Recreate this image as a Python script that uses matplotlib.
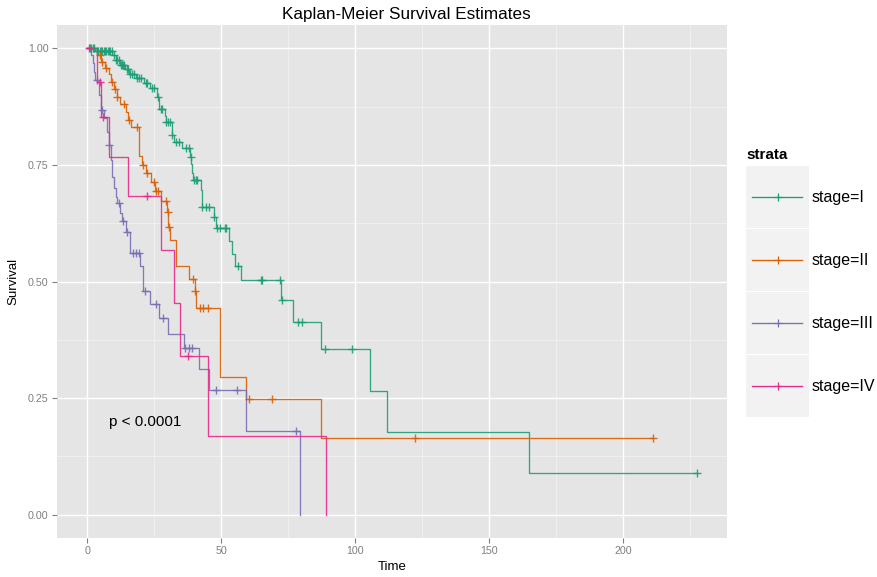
import numpy as np
import matplotlib
matplotlib.use("Agg")
import matplotlib.pyplot as plt
from matplotlib.patches import Rectangle

plt.rcParams['font.family'] = ['Liberation Sans', 'DejaVu Sans']

# ---------------- data ----------------
strata = ["stage=I", "stage=II", "stage=III", "stage=IV"]
colors = ["#1B9E77", "#D95F02", "#7570B3", "#E7298A"]

green_t = [3.0, 9.3, 10.5, 12.0, 14.2, 15.7, 18.3, 21.3, 23.2, 25.8, 26.9, 28.8, 29.2,
           31.6, 32.4, 35.5, 38.3, 38.7, 39.0, 39.5, 42.4, 42.8, 47.1, 48.0, 52.9, 53.9,
           55.2, 57.3, 72.2, 76.9, 87.1, 105.5, 111.7, 165.1]
green_s = [0.995, 0.985, 0.975, 0.965, 0.955, 0.945, 0.937, 0.925, 0.915, 0.895, 0.87,
           0.855, 0.843, 0.814, 0.80, 0.786, 0.768, 0.751, 0.733, 0.718, 0.697, 0.66,
           0.638, 0.615, 0.586, 0.558, 0.533, 0.504, 0.46, 0.413, 0.355, 0.266, 0.178, 0.089]
green_c = [0.8, 1.5, 2.0, 2.5, 3.5, 4.0, 4.5, 5.0, 5.5, 6.0, 6.5, 7.0, 7.5, 8.0, 8.5, 9.0,
           9.8, 10.8, 11.2, 11.6, 12.4, 12.8, 13.3, 13.8, 14.6, 15.0, 16.0, 16.8, 17.5,
           18.6, 19.2, 20.1, 21.7, 22.4, 24.0, 25.0, 26.2, 27.5, 28.0, 29.5, 30.2, 31.0,
           31.7, 33.0, 34.3, 36.8, 37.8, 38.5, 39.9, 40.5, 41.0, 42.9, 44.2, 45.5, 47.1,
           48.5, 49.5, 51.3, 51.7, 56.4, 64.7, 65.1, 71.8, 72.8, 78.6, 80.0, 88.7, 98.9,
           227.5]

orange_t = [3.7, 5.2, 6.4, 7.9, 8.9, 10.1, 11.0, 12.3, 14.5, 15.1, 16.3, 19.1, 19.4, 20.4,
            21.7, 23.8, 25.4, 27.6, 29.6, 30.0, 30.9, 33.2, 37.9, 40.0, 40.6, 49.6, 59.1, 87.1]
orange_s = [0.985, 0.97, 0.957, 0.946, 0.928, 0.912, 0.896, 0.881, 0.864, 0.847, 0.831,
            0.793, 0.769, 0.75, 0.733, 0.714, 0.693, 0.672, 0.65, 0.617, 0.59, 0.533,
            0.506, 0.48, 0.444, 0.296, 0.247, 0.165]
orange_c = [4.5, 5.6, 6.8, 9.3, 10.4, 11.2, 13.6, 15.4, 18.6, 20.6, 22.1, 24.7, 25.5, 26.2,
            29.2, 29.9, 30.3, 39.4, 40.2, 41.9, 43.1, 44.9, 60.4, 68.8, 122.2, 211.3]

purple_t = [1.5, 2.0, 2.6, 3.0, 4.3, 5.0, 6.2, 7.4, 7.9, 8.8, 9.0, 9.9, 10.5, 11.0, 12.2,
            12.8, 14.4, 16.0, 19.7, 20.7, 23.4, 26.9, 30.0, 35.9, 41.8, 45.5, 59.4, 79.3]
purple_s = [0.985, 0.968, 0.95, 0.932, 0.90, 0.868, 0.851, 0.82, 0.793, 0.76, 0.725, 0.70,
            0.682, 0.668, 0.647, 0.629, 0.607, 0.561, 0.534, 0.48, 0.451, 0.422, 0.387,
            0.357, 0.312, 0.267, 0.179, 0.0]
purple_c = [3.5, 5.6, 8.2, 11.7, 13.2, 14.8, 16.9, 18.0, 19.1, 21.5, 25.7, 28.4, 36.6,
            37.9, 39.1, 47.9, 56.0, 78.0]

pink_t = [3.7, 5.0, 7.9, 15.0, 27.3, 32.3, 34.7, 45.2, 89.2]
pink_s = [0.927, 0.853, 0.768, 0.684, 0.567, 0.453, 0.341, 0.169, 0.0]
pink_c = [0.6, 4.6, 5.7, 22.2, 37.5]

curves = [(green_t, green_s, green_c), (orange_t, orange_s, orange_c),
          (purple_t, purple_s, purple_c), (pink_t, pink_s, pink_c)]

x_ticks = [0, 50, 100, 150, 200]
y_ticks = [0.00, 0.25, 0.50, 0.75, 1.00]
y_ticklabels = ["0.00", "0.25", "0.50", "0.75", "1.00"]
pval_text = "p < 0.0001"

# ---------------- figure ----------------
W, H = 877, 577
fig = plt.figure(figsize=(W / 100, H / 100), dpi=100)
fig.patch.set_facecolor("white")

def fx(px):
    return px / W

def fy(py):
    return 1 - py / H

pl, pr, pt, pb = 57, 727, 25, 538
ax = fig.add_axes([fx(pl), fy(pb), fx(pr) - fx(pl), fy(pt) - fy(pb)])
ax.set_facecolor("#E5E5E5")
for s in ax.spines.values():
    s.set_visible(False)

xmax = 227.5
ax.set_xlim(-0.05 * xmax, xmax * 1.05)
ax.set_ylim(-0.05, 1.05)

# grid
for v in [25, 75, 125, 175, 225]:
    ax.axvline(v, color="#F2F2F2", lw=0.6, zorder=0)
for v in [0.125, 0.375, 0.625, 0.875]:
    ax.axhline(v, color="#F2F2F2", lw=0.6, zorder=0)
for v in x_ticks:
    ax.axvline(v, color="white", lw=1.0, zorder=0)
for v in y_ticks:
    ax.axhline(v, color="white", lw=1.0, zorder=0)

for (t, s, c), col in zip(curves, colors):
    t = np.asarray(t)
    s = np.asarray(s)
    c = np.asarray(c)
    xs = np.concatenate([[0.0], t])
    ys = np.concatenate([[1.0], s])
    last_c = c.max() if len(c) else 0
    if s[-1] > 0 and last_c > xs[-1]:
        xs = np.append(xs, last_c)
        ys = np.append(ys, ys[-1])
    ax.step(xs, ys, where="post", color=col, lw=0.95, alpha=0.9, zorder=3)
    idx = np.searchsorted(t, c, side="right") - 1
    cs = np.where(idx < 0, 1.0, s[np.clip(idx, 0, None)])
    ax.plot(c, cs, linestyle="none", marker="+", ms=6, mew=1.0, color=col,
            alpha=0.9, zorder=4)

ax.text(8.2, 0.198, pval_text, fontsize=11, color="black", va="center", ha="left")

ax.set_xticks(x_ticks)
ax.set_xticklabels([str(v) for v in x_ticks])
ax.set_yticks(y_ticks)
ax.set_yticklabels(y_ticklabels)
ax.tick_params(axis="both", length=3.5, width=0.8, color="#7F7F7F",
               labelcolor="#7F7F7F", labelsize=7.7, pad=2.5)

ax.set_xlabel("Time", fontsize=9.5, labelpad=3)
ax.set_ylabel("Survival", fontsize=9.5, labelpad=6)

fig.text(fx(406), fy(15), "Kaplan-Meier Survival Estimates", fontsize=12.3,
         ha="center", va="center")

# ---------------- legend ----------------
fig.text(fx(746), fy(155), "strata", fontsize=11, fontweight="bold",
         ha="left", va="center")
key_top = 166
key_h = 62.9
for i, (lab, col) in enumerate(zip(strata, colors)):
    y0 = key_top + i * key_h
    fig.patches.append(Rectangle((fx(746), fy(y0 + key_h - 0.8)), fx(808.7) - fx(746),
                                 fy(y0) - fy(y0 + key_h - 0.8),
                                 transform=fig.transFigure, facecolor="#F2F2F2",
                                 edgecolor="none"))
    yc = y0 + key_h / 2
    fig.lines.append(plt.Line2D([fx(752), fx(802)], [fy(yc), fy(yc)], color=col, lw=0.95,
                                transform=fig.transFigure))
    fig.lines.append(plt.Line2D([fx(777.5)], [fy(yc)], color=col, marker="+", ms=6,
                                mew=0.9, transform=fig.transFigure))
    fig.text(fx(812), fy(yc), lab, fontsize=11.5, ha="left", va="center", color="black")

fig.savefig("out.png", dpi=100)
